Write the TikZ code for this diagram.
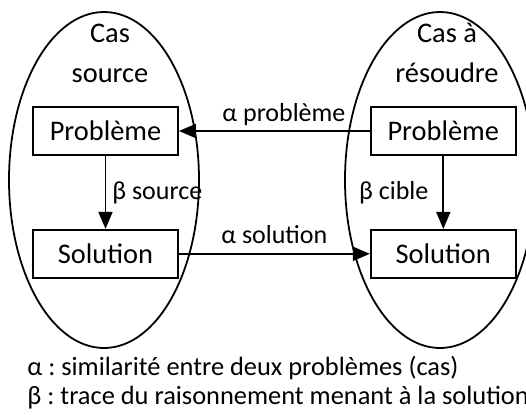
\documentclass[tikz,border=0pt]{standalone}
\usepackage{fontspec}
\setmainfont{Carlito}
\frenchspacing
\usetikzlibrary{positioning, arrows.meta, shapes.geometric}

\begin{document}
\begin{tikzpicture}[
    x = 0.5pt, y = -0.5pt,
    casell/.style = {
      ellipse, draw, line width = 0.9pt,
      minimum width = 95pt, minimum height = 168pt, inner sep = 0pt
    },
    casbox/.style = {
      rectangle, draw, line width = 0.9pt,
      minimum width = 72.5pt, minimum height = 24pt, inner sep = 0pt,
      font = \fontsize{14.2}{17}\selectfont
    },
    titre/.style = {align = center, inner sep = 0pt, font = \fontsize{14.2}{20}\selectfont},
    lbl/.style   = {inner sep = 1pt, font = \fontsize{13}{15}\selectfont},
    legende/.style = {inner sep = 0pt, font = \fontsize{13.2}{15}\selectfont},
    arr/.style  = {-{Triangle[length = 8.5pt, width = 7pt]}, line width = 0.9pt}
  ]
  \useasboundingbox (0,0) rectangle (526,414);

  % Les deux cas
  \node[casell] (elsrc) at (104,180) {};
  \node[casell] (elcib) at (440,180) {};
  \node[titre] (tsrc) at (110,53) {Cas\\source};
  \node[titre] (tcib) at (447,53) {Cas à\\résoudre};

  % Boîtes
  \node[casbox] (pbsrc) at (105.5,131) {Problème};
  \node[casbox, below = 36.5pt of pbsrc]  (solsrc) {Solution};
  \node[casbox, right = 95.5pt of pbsrc]  (pbcib)  {Problème};
  \node[casbox, below = 36.5pt of pbcib]  (solcib) {Solution};

  % Flèches
  \draw[arr] (pbcib)  -- node[lbl, above = 1.3pt, pos = 0.45] {α problème} (pbsrc);
  \draw[arr] (solsrc) -- node[lbl, above = 3.5pt] {α solution} (solcib);
  \draw[arr] (pbsrc)  -- node[lbl, right = 2pt] {β source} (solsrc);
  \draw[arr] (pbcib)  -- node[lbl, left = 6pt] {β cible} (solcib);

  % Légende
  \node[legende, anchor = base west] (legalpha) at (27,375) {α : similarité entre deux problèmes (cas)};
  \node[legende, anchor = base west] (legbeta)  at (27,404) {β : trace du raisonnement menant à la solution};

\end{tikzpicture}
\end{document}
